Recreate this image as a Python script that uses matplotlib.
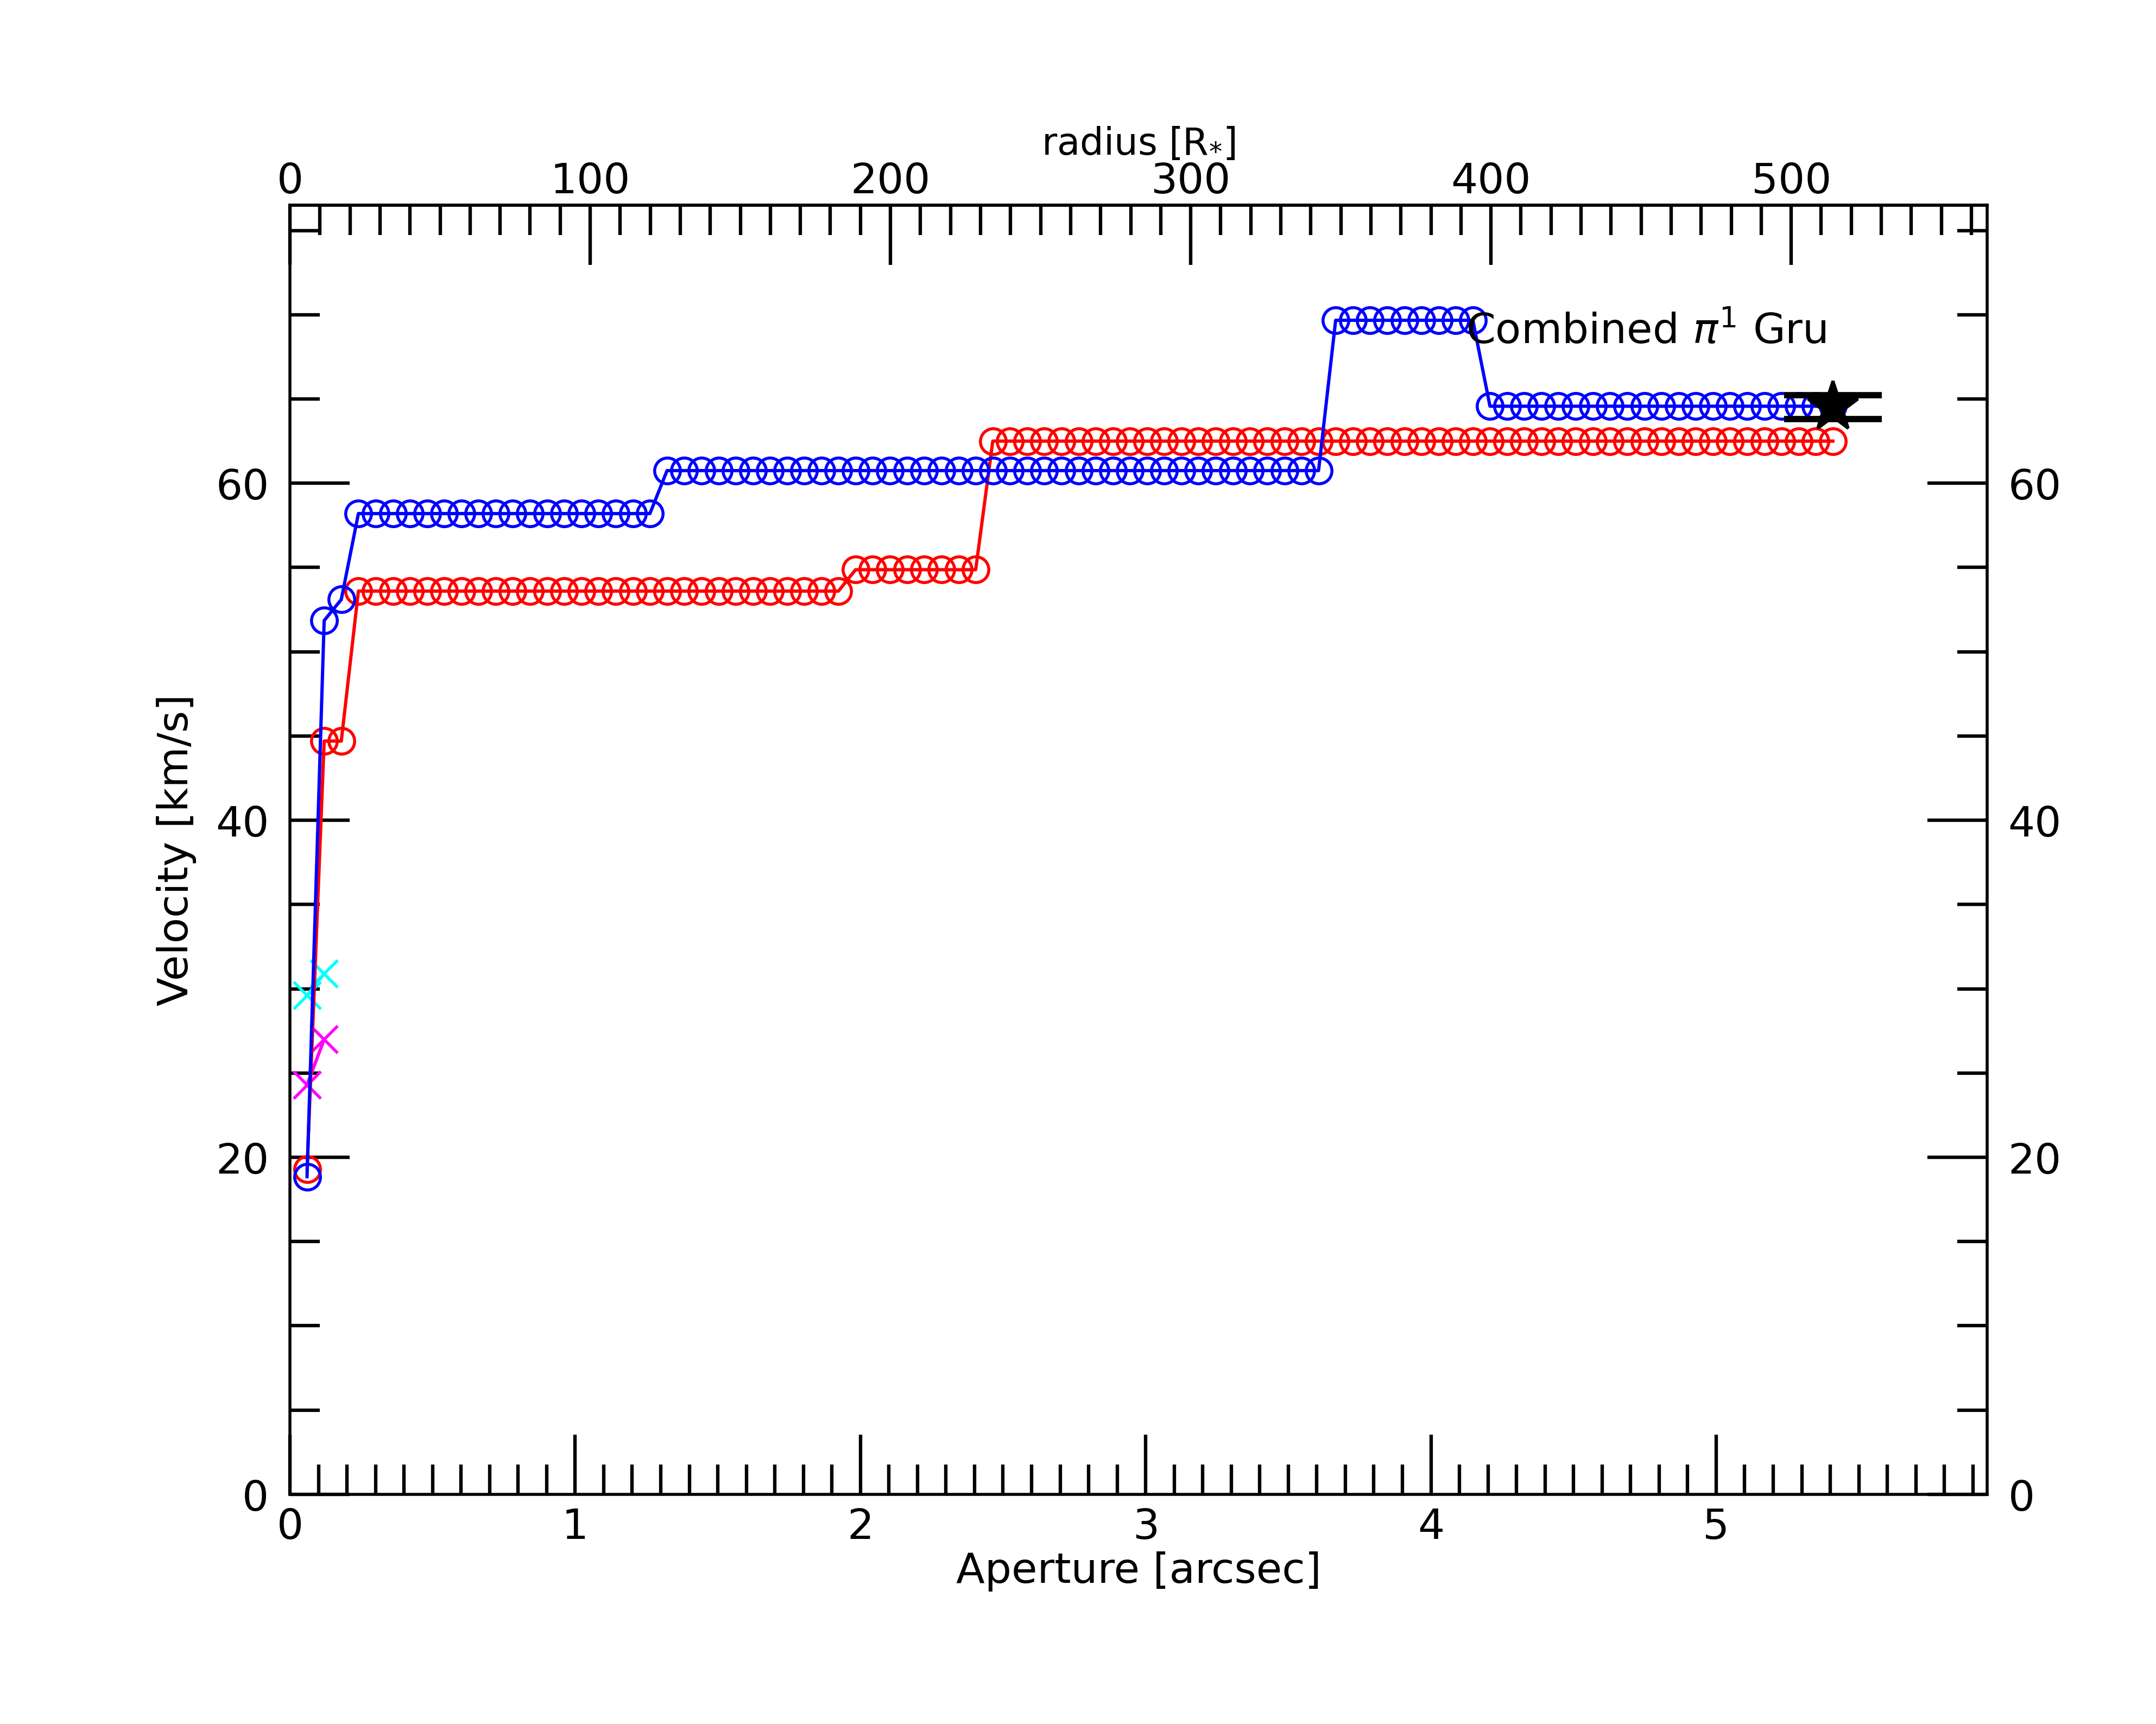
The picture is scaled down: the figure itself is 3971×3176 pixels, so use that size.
import numpy as np
import matplotlib
matplotlib.use("Agg")
import matplotlib.pyplot as plt
from matplotlib.ticker import MultipleLocator

# ---------------- data ----------------
aperture = [0.060, 0.120, 0.180, 0.240, 0.301, 0.361, 0.421, 0.481, 0.541, 0.601,
            0.661, 0.721, 0.781, 0.841, 0.902, 0.962, 1.022, 1.082, 1.142, 1.202,
            1.262, 1.322, 1.382, 1.442, 1.503, 1.563, 1.623, 1.683, 1.743, 1.803,
            1.863, 1.923, 1.983, 2.043, 2.104, 2.164, 2.224, 2.284, 2.344, 2.404,
            2.464, 2.524, 2.584, 2.644, 2.705, 2.765, 2.825, 2.885, 2.945, 3.005,
            3.065, 3.125, 3.185, 3.245, 3.306, 3.366, 3.426, 3.486, 3.546, 3.606,
            3.666, 3.726, 3.786, 3.846, 3.907, 3.967, 4.027, 4.087, 4.147, 4.207,
            4.267, 4.327, 4.387, 4.447, 4.508, 4.568, 4.628, 4.688, 4.748, 4.808,
            4.868, 4.928, 4.988, 5.048, 5.109, 5.169, 5.229, 5.289, 5.349, 5.409]

# red series: velocity levels and how many consecutive apertures share them
red_levels = [19.3, 44.7, 53.6, 54.87, 62.5]
red_counts = [1, 2, 29, 8, 50]
# blue series
blue_levels = [18.85, 51.85, 53.1, 58.2, 60.75, 69.67, 64.57]
blue_counts = [1, 1, 1, 18, 39, 9, 21]

cyan_x = [0.060, 0.120]
cyan_y = [29.6, 30.9]
magenta_x = [0.060, 0.120]
magenta_y = [24.3, 27.0]

star_x = 5.409
star_y = 64.52
star_err = 0.71

label_text = r"Combined $\pi^1$ Gru"
label_pos = (4.122, 68.32)

rstar_per_arcsec = 95.0

red_v = np.repeat(red_levels, red_counts)
blue_v = np.repeat(blue_levels, blue_counts)

# ---------------- figure ----------------
fig = plt.figure(figsize=(10, 8), dpi=397.1)
ax = fig.add_axes([0.13448, 0.13318, 0.92168 - 0.13448, 0.88076 - 0.13318])

ms_o = 8.6
lw = 1.1
ax.plot(cyan_x, cyan_y, color="cyan", marker="x", ms=9, mew=1.0, lw=lw)
ax.plot(magenta_x, magenta_y, color="magenta", marker="x", ms=9, mew=1.0, lw=lw)
ax.plot(aperture, red_v, color="red", marker="o", mfc="none", ms=ms_o, mew=1.0, lw=lw)
ax.plot(aperture, blue_v, color="blue", marker="o", mfc="none", ms=ms_o, mew=1.0, lw=lw)
ax.errorbar([star_x], [star_y], yerr=[star_err], fmt="*", color="black", ms=17.5,
            capsize=16.3, capthick=2.1, elinewidth=2, zorder=5)

ax.text(label_pos[0], label_pos[1], label_text, fontsize=14)

ax.set_xlim(0, 1.1 * star_x)
ax.set_ylim(0, 76.5)

ax.xaxis.set_major_locator(MultipleLocator(1))
ax.xaxis.set_minor_locator(MultipleLocator(0.1))
ax.yaxis.set_major_locator(MultipleLocator(20))
ax.yaxis.set_minor_locator(MultipleLocator(5))

ax.tick_params(which="both", direction="in", top=False, right=True, labelright=True,
               labelsize=14, width=1.15)
ax.tick_params(which="major", length=20)
ax.tick_params(which="minor", length=10)
ax.tick_params(axis="x", pad=4.2)
ax.tick_params(axis="y", pad=7.0)

for s in ax.spines.values():
    s.set_linewidth(1.0)

ax.set_xlabel("Aperture [arcsec]", fontsize=14, labelpad=1.3)
ax.set_ylabel("Velocity [km/s]", fontsize=14, labelpad=6.3)

sec = ax.secondary_xaxis("top", functions=(lambda x: x * rstar_per_arcsec,
                                           lambda r: r / rstar_per_arcsec))
sec.xaxis.set_major_locator(MultipleLocator(100))
sec.xaxis.set_minor_locator(MultipleLocator(10))
sec.tick_params(which="both", direction="in", labelsize=14, width=1.15, pad=1.2)
sec.tick_params(which="major", length=20)
sec.tick_params(which="minor", length=10)
sec.spines["top"].set_linewidth(1.0)
sec.set_xlabel(r"radius [R$_{*}$]", fontsize=12.5, labelpad=2.5)

fig.savefig("out.png", dpi=397.1, facecolor="white")
